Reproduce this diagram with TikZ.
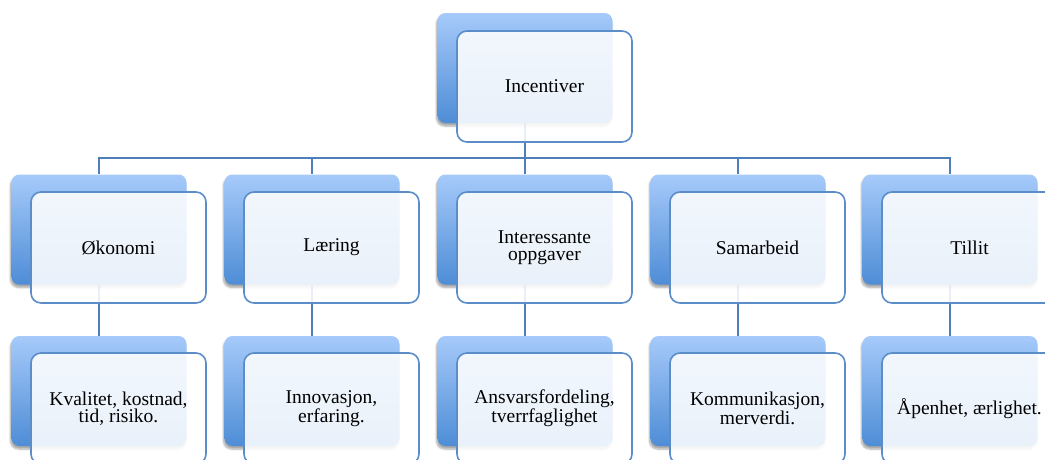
\documentclass[tikz,border=0pt]{standalone}
\usepackage{fontspec}
\setmainfont{Liberation Serif}
\usetikzlibrary{shadows.blur}
\definecolor{boxtop}{HTML}{A6CAFA}
\definecolor{boxbot}{HTML}{4E8DD6}
\definecolor{edgeblue}{HTML}{5B8DC9}
\definecolor{linkblue}{HTML}{4F7FB8}
\pgfdeclarelayer{bg}
\pgfsetlayers{bg,main}
\tikzset{
  backbox/.style={rectangle, rounded corners=8pt, minimum width=175pt,
    minimum height=110pt, inner sep=0pt, top color=boxtop, bottom color=boxbot,
    draw=none, blur shadow={shadow xshift=-1pt, shadow yshift=-3pt,
    shadow blur steps=6, shadow opacity=35}},
  frontbox/.style={rectangle, rounded corners=10pt, minimum width=175pt,
    minimum height=111pt, inner sep=2pt, draw=edgeblue, line width=1.6pt,
    fill=white, fill opacity=0.88, text opacity=1, align=center,
    font=\fontsize{19.5}{17.5}\selectfont},
  link/.style={draw=linkblue, line width=1.8pt}
}
\begin{document}
\begin{tikzpicture}[x=1pt,y=-1pt]
\useasboundingbox (0,0) rectangle (1045,459);

% top level
\node[backbox]  (b0) at (525,68) {};
\node[frontbox] (f0) at (544.5,86.5) {Incentiver};

% second row
\node[backbox] (b1) at (99,229.5) {};
\node[backbox] (b2) at (312,229.5) {};
\node[backbox] (b3) at (525,229.5) {};
\node[backbox] (b4) at (738,229.5) {};
\node[backbox] (b5) at (950,229.5) {};
\node[frontbox] (f1) at (118.5,247.5) {Økonomi};
\node[frontbox] (f2) at (331.5,247.5) {Læring};
\node[frontbox] (f3) at (544.5,247.5) {Interessante\\oppgaver};
\node[frontbox] (f4) at (757.5,247.5) {Samarbeid};
\node[frontbox] (f5) at (969.5,247.5) {Tillit};

% third row
\node[backbox] (c1) at (99,391) {};
\node[backbox] (c2) at (312,391) {};
\node[backbox] (c3) at (525,391) {};
\node[backbox] (c4) at (738,391) {};
\node[backbox] (c5) at (950,391) {};
\node[frontbox] (g1) at (118.5,408.5) {Kvalitet, kostnad,\\tid, risiko.};
\node[frontbox] (g2) at (331.5,408.5) {Innovasjon,\\erfaring.};
\node[frontbox] (g3) at (544.5,408.5) {Ansvarsfordeling,\\tverrfaglighet};
\node[frontbox] (g4) at (757.5,408.5) {Kommunikasjon,\\merverdi.};
\node[frontbox] (g5) at (969.5,408.5) {Åpenhet, ærlighet.};

% connectors behind the boxes
\coordinate (bus) at (0,158);
\begin{pgfonlayer}{bg}
  \foreach \i in {1,...,5} {
    \draw[link] (b0.south) -- (b0.south |- bus) -| (b\i.north);
    \draw[link] (b\i.south) -- (c\i.north);
  }
\end{pgfonlayer}
\end{tikzpicture}
\end{document}
